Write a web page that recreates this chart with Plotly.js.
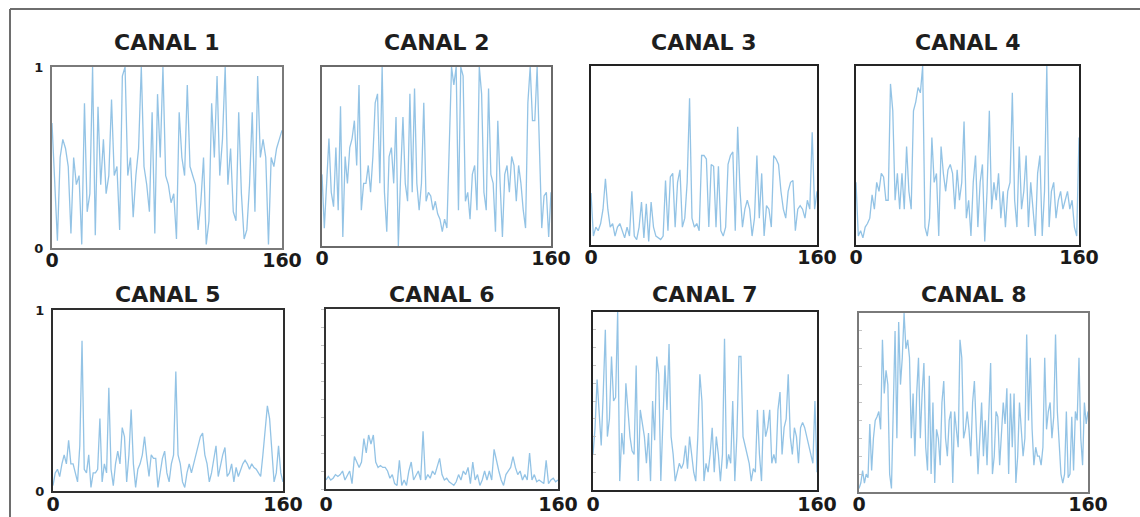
<!DOCTYPE html>
<html>
<head>
<meta charset="utf-8">
<script src="https://cdn.plot.ly/plotly-3.0.1.min.js"></script>
<style>
  html, body { margin: 0; padding: 0; background: #ffffff; }
  #chart { width: 1140px; height: 517px; }
</style>
</head>
<body>
<div id="chart"></div>
<script>
// Normalised amplitude of each channel, sampled evenly over 0..160
const xMax = 160;
const channelNames = ['CANAL 1', 'CANAL 2', 'CANAL 3', 'CANAL 4', 'CANAL 5', 'CANAL 6', 'CANAL 7', 'CANAL 8'];
const xTickValues = [0, 160];
const xTickLabels = ['0', '160'];
const yTickValues = [0, 1];
const yTickLabels = ['0', '1'];

const canal1 = [0.69, 0.35, 0.04, 0.5, 0.6, 0.55, 0.45, 0.08, 0.5, 0.35, 0.4, 0.02, 0.8, 0.2, 0.3, 1.0, 0.07, 0.78, 0.35, 0.6,
  0.3, 0.4, 0.82, 0.4, 0.45, 0.1, 0.95, 1.0, 0.4, 0.5, 0.17, 0.4, 0.55, 1.0, 0.45, 0.35, 0.2, 0.75, 0.08, 0.85,
  0.5, 1.0, 0.4, 0.35, 0.25, 0.3, 0.05, 0.75, 0.5, 0.4, 0.9, 0.45, 0.4, 0.35, 0.1, 0.25, 0.5, 0.02, 0.15, 0.8,
  0.5, 0.95, 0.4, 0.6, 1.0, 0.35, 0.55, 0.2, 0.15, 0.75, 0.3, 0.05, 0.1, 0.35, 0.75, 0.2, 0.95, 0.5, 0.6, 0.5,
  0.02, 0.5, 0.45, 0.55, 0.6, 0.65];

const canal2 = [0.4, 0.1, 0.35, 0.6, 0.3, 0.22, 0.55, 0.2, 0.78, 0.05, 0.5, 0.35, 0.55, 0.6, 0.7, 0.45, 0.9, 0.2, 0.35, 0.35,
  0.45, 0.3, 0.5, 0.8, 0.85, 0.35, 1.0, 0.3, 0.08, 0.5, 0.55, 0.35, 0.72, 0.0, 0.4, 0.72, 0.35, 0.25, 0.85, 0.3,
  0.88, 0.35, 0.2, 0.35, 0.8, 0.25, 0.3, 0.28, 0.2, 0.25, 0.18, 0.15, 0.08, 0.15, 0.1, 0.55, 1.0, 0.9, 1.0, 0.2,
  1.0, 0.95, 0.25, 0.3, 0.15, 0.4, 0.45, 0.2, 1.0, 0.85, 0.3, 0.2, 0.88, 0.4, 0.35, 0.08, 0.7, 0.35, 0.05, 0.4,
  0.45, 0.3, 0.5, 0.45, 0.25, 0.45, 0.35, 0.2, 0.1, 0.8, 1.0, 0.7, 0.7, 1.0, 0.5, 0.1, 0.28, 0.3, 0.05, 0.3];

const canal3 = [0.29, 0.05, 0.1, 0.08, 0.12, 0.2, 0.37, 0.2, 0.1, 0.12, 0.05, 0.1, 0.12, 0.08, 0.04, 0.1, 0.05, 0.3, 0.05, 0.03,
  0.1, 0.24, 0.04, 0.23, 0.02, 0.24, 0.1, 0.05, 0.04, 0.03, 0.05, 0.36, 0.08, 0.38, 0.4, 0.1, 0.35, 0.42, 0.1, 0.15,
  0.35, 0.82, 0.15, 0.1, 0.12, 0.08, 0.5, 0.5, 0.48, 0.1, 0.45, 0.44, 0.1, 0.44, 0.08, 0.05, 0.1, 0.45, 0.5, 0.52,
  0.08, 0.66, 0.3, 0.1, 0.2, 0.25, 0.2, 0.05, 0.15, 0.5, 0.15, 0.4, 0.05, 0.22, 0.2, 0.1, 0.5, 0.48, 0.45, 0.3,
  0.2, 0.15, 0.3, 0.35, 0.36, 0.08, 0.2, 0.22, 0.2, 0.15, 0.25, 0.2, 0.63, 0.2, 0.3];

const canal4 = [0.35, 0.05, 0.08, 0.04, 0.1, 0.12, 0.15, 0.28, 0.2, 0.35, 0.3, 0.4, 0.38, 0.25, 0.25, 0.9, 0.75, 0.25, 0.4, 0.2,
  0.4, 0.2, 0.55, 0.3, 0.2, 0.75, 0.8, 0.88, 0.85, 1.0, 0.1, 0.05, 0.15, 0.6, 0.35, 0.4, 0.05, 0.55, 0.4, 0.3,
  0.42, 0.45, 0.4, 0.2, 0.42, 0.25, 0.35, 0.69, 0.15, 0.25, 0.05, 0.35, 0.5, 0.1, 0.35, 0.45, 0.02, 0.3, 0.75, 0.2,
  0.35, 0.25, 0.4, 0.15, 0.3, 0.1, 0.3, 0.35, 0.85, 0.25, 0.1, 0.55, 0.2, 0.3, 0.5, 0.1, 0.35, 0.2, 0.05, 0.4,
  0.5, 0.05, 0.3, 1.0, 0.1, 0.3, 0.35, 0.15, 0.25, 0.3, 0.2, 0.25, 0.3, 0.2, 0.25, 0.1, 0.05, 0.6];

const canal5 = [0.03, 0.1, 0.12, 0.08, 0.15, 0.2, 0.15, 0.28, 0.15, 0.15, 0.1, 0.05, 0.25, 0.83, 0.12, 0.1, 0.2, 0.02, 0.1, 0.1,
  0.12, 0.4, 0.05, 0.15, 0.1, 0.57, 0.12, 0.03, 0.15, 0.22, 0.15, 0.35, 0.3, 0.05, 0.2, 0.45, 0.15, 0.02, 0.12, 0.15,
  0.2, 0.3, 0.18, 0.08, 0.2, 0.18, 0.18, 0.02, 0.1, 0.18, 0.22, 0.1, 0.05, 0.15, 0.2, 0.66, 0.2, 0.15, 0.05, 0.02,
  0.1, 0.15, 0.1, 0.15, 0.2, 0.25, 0.3, 0.32, 0.2, 0.15, 0.05, 0.1, 0.18, 0.25, 0.08, 0.15, 0.2, 0.24, 0.08, 0.1,
  0.15, 0.05, 0.13, 0.08, 0.12, 0.15, 0.17, 0.15, 0.12, 0.15, 0.13, 0.12, 0.1, 0.08, 0.2, 0.35, 0.47, 0.4, 0.25, 0.05,
  0.1, 0.25, 0.1, 0.05];

const canal6 = [0.05, 0.07, 0.05, 0.06, 0.08, 0.07, 0.08, 0.1, 0.05, 0.08, 0.1, 0.03, 0.18, 0.15, 0.12, 0.15, 0.28, 0.2, 0.3, 0.25,
  0.3, 0.15, 0.12, 0.13, 0.12, 0.12, 0.1, 0.06, 0.08, 0.03, 0.02, 0.16, 0.02, 0.05, 0.02, 0.1, 0.15, 0.05, 0.08, 0.1,
  0.05, 0.32, 0.05, 0.08, 0.06, 0.1, 0.08, 0.13, 0.17, 0.08, 0.05, 0.06, 0.04, 0.03, 0.02, 0.04, 0.08, 0.05, 0.1, 0.08,
  0.12, 0.03, 0.15, 0.05, 0.08, 0.02, 0.05, 0.1, 0.05, 0.1, 0.05, 0.22, 0.15, 0.1, 0.05, 0.02, 0.08, 0.1, 0.12, 0.18,
  0.12, 0.08, 0.1, 0.05, 0.08, 0.05, 0.2, 0.05, 0.08, 0.04, 0.05, 0.04, 0.03, 0.16, 0.03, 0.05, 0.06, 0.04, 0.05];

const canal7 = [0.2, 0.35, 0.62, 0.4, 0.25, 0.55, 0.9, 0.3, 0.4, 0.75, 0.5, 0.52, 1.0, 0.05, 0.32, 0.2, 0.6, 0.45, 0.3, 0.22,
  0.2, 0.7, 0.05, 0.45, 0.38, 0.3, 0.15, 0.32, 0.05, 0.5, 0.28, 0.75, 0.65, 0.05, 0.38, 0.7, 0.45, 0.82, 0.3, 0.2,
  0.05, 0.1, 0.15, 0.12, 0.15, 0.25, 0.12, 0.3, 0.2, 0.1, 0.05, 0.3, 0.65, 0.5, 0.05, 0.15, 0.1, 0.2, 0.35, 0.1,
  0.3, 0.2, 0.05, 0.2, 0.85, 0.12, 0.2, 0.15, 0.5, 0.05, 0.3, 0.75, 0.75, 0.3, 0.25, 0.2, 0.15, 0.05, 0.12, 0.1,
  0.45, 0.2, 0.05, 0.45, 0.3, 0.35, 0.45, 0.15, 0.2, 0.15, 0.45, 0.55, 0.2, 0.35, 0.4, 0.65, 0.3, 0.2, 0.35, 0.3,
  0.15, 0.35, 0.38, 0.35, 0.3, 0.25, 0.2, 0.15, 0.5, 0.1];

const canal8 = [0.02, 0.05, 0.12, 0.05, 0.1, 0.08, 0.38, 0.12, 0.3, 0.4, 0.42, 0.45, 0.35, 0.85, 0.55, 0.68, 0.6, 0.1, 0.02, 0.45,
  0.9, 0.3, 0.95, 0.6, 0.75, 1.0, 0.8, 0.85, 0.75, 0.3, 0.55, 0.2, 0.55, 0.75, 0.3, 0.55, 0.72, 0.25, 0.12, 0.65,
  0.1, 0.5, 0.05, 0.35, 0.3, 0.15, 0.5, 0.62, 0.3, 0.2, 0.4, 0.45, 0.05, 0.45, 0.35, 0.25, 0.85, 0.75, 0.3, 0.35,
  0.45, 0.35, 0.2, 0.5, 0.62, 0.3, 0.1, 0.3, 0.5, 0.2, 0.4, 0.15, 0.45, 0.72, 0.1, 0.2, 0.45, 0.42, 0.15, 0.35,
  0.5, 0.38, 0.58, 0.1, 0.55, 0.25, 0.55, 0.05, 0.2, 0.5, 0.35, 0.2, 0.3, 0.88, 0.4, 0.75, 0.35, 0.15, 0.25, 0.2,
  0.2, 0.15, 0.25, 0.75, 0.35, 0.45, 0.5, 0.3, 0.42, 0.88, 0.45, 0.3, 0.1, 0.05, 0.1, 0.45, 0.08, 0.1, 0.42, 0.12,
  0.45, 0.4, 0.75, 0.3, 0.15, 0.5, 0.38, 0.45];

const channels = [canal1, canal2, canal3, canal4, canal5, canal6, canal7, canal8];

// Panel frames in pixels: [left, top, right, bottom]
const W = 1140, H = 517;
const boxes = [
  [52, 67, 282, 248], [322, 67, 551, 246], [591, 66, 817, 245], [856, 66, 1079, 245],
  [53, 310, 283, 491], [326, 309, 558, 489], [593, 312, 817, 490], [859, 313, 1088, 492]
];
const frameColors = ['#7a7a7a', '#6a6a6a', '#222222', '#252525', '#2e2e2e', '#333333', '#262626', '#7a7a7a'];
const showYLabels = [true, false, false, false, true, false, false, false];
const minorTicks = [null, null, null, null, null, 'outside', 'inside', 'inside'];

const traces = [];
const layout = {
  width: W, height: H,
  margin: { l: 0, r: 0, t: 0, b: 0, pad: 0 },
  paper_bgcolor: '#ffffff',
  plot_bgcolor: '#ffffff',
  showlegend: false,
  annotations: [],
  shapes: [
    // outer frame (top and left edges)
    { type: 'line', xref: 'paper', yref: 'paper', x0: 10 / W, x1: 1, y0: 1 - 9 / H, y1: 1 - 9 / H,
      line: { color: '#6e6e6e', width: 2 } },
    { type: 'line', xref: 'paper', yref: 'paper', x0: 10 / W, x1: 10 / W, y0: 0, y1: 1 - 9 / H,
      line: { color: '#6e6e6e', width: 2 } }
  ]
};

channels.forEach((vals, i) => {
  const n = i + 1;
  const xs = vals.map((_, k) => k * xMax / (vals.length - 1));
  const xa = n === 1 ? 'x' : 'x' + n;
  const ya = n === 1 ? 'y' : 'y' + n;
  traces.push({
    type: 'scatter', mode: 'lines',
    x: xs, y: vals,
    xaxis: xa, yaxis: ya,
    line: { color: 'rgba(128,184,225,0.85)', width: 1.3 },
    hoverinfo: 'skip'
  });

  const [l, t, r, b] = boxes[i];
  const row2 = i >= 4;
  const xKey = n === 1 ? 'xaxis' : 'xaxis' + n;
  const yKey = n === 1 ? 'yaxis' : 'yaxis' + n;

  layout[xKey] = {
    domain: [l / W, r / W],
    anchor: ya,
    range: [0, xMax],
    showgrid: false, zeroline: false,
    showline: true, mirror: true,
    linecolor: frameColors[i], linewidth: 2,
    ticks: '',
    tickmode: 'array', tickvals: xTickValues, ticktext: xTickLabels,
    // keep the lower row's labels inside the figure edge
    ticklabelstandoff: row2 ? (486 - b) : -6,
    tickfont: { family: 'DejaVu Sans', size: 19, color: '#1a1a1a', weight: 'bold' },
    fixedrange: true
  };

  const yAxis = {
    domain: [1 - b / H, 1 - t / H],
    anchor: xa,
    range: [0, 1],
    showgrid: false, zeroline: false,
    showline: true, mirror: true,
    linecolor: frameColors[i], linewidth: 2,
    ticks: '',
    fixedrange: true
  };
  if (showYLabels[i]) {
    Object.assign(yAxis, {
      tickmode: 'array', tickvals: yTickValues, ticktext: yTickLabels,
      ticklabelstandoff: 4,
      tickfont: { family: 'DejaVu Sans', size: 13, color: '#1a1a1a', weight: 'bold' }
    });
  } else if (minorTicks[i]) {
    Object.assign(yAxis, {
      showticklabels: false,
      ticks: minorTicks[i], ticklen: 3, tickwidth: 1, tickcolor: '#c4c4c4',
      tickmode: 'linear', tick0: 0, dtick: 0.1
    });
  } else {
    yAxis.showticklabels = false;
  }
  layout[yKey] = yAxis;

  layout.annotations.push({
    xref: 'paper', yref: 'paper',
    x: ((l + r) / 2) / W,
    y: 1 - (row2 ? 294 : 42) / H,
    xanchor: 'center', yanchor: 'middle',
    text: '<b>' + channelNames[i] + '</b>',
    showarrow: false,
    font: { family: 'DejaVu Sans', size: 22, color: '#1e1e1e' }
  });
});

Plotly.newPlot('chart', traces, layout, { staticPlot: true, displayModeBar: false });
</script>
</body>
</html>
